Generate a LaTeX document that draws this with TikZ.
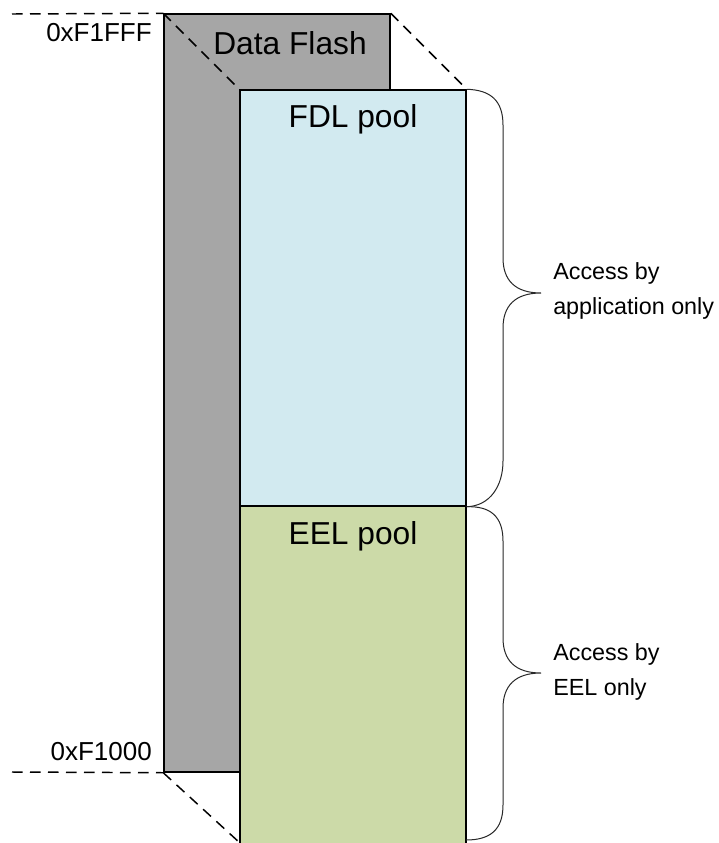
\documentclass[tikz,border=0pt]{standalone}
\usepackage{fontspec}
\setmainfont{Liberation Sans}
\definecolor{flashgray}{RGB}{166,166,166}
\definecolor{fdlblue}{RGB}{210,234,240}
\definecolor{eelgreen}{RGB}{204,218,168}
\definecolor{bracegray}{RGB}{40,40,40}
\begin{document}
\begin{tikzpicture}[x=0.75pt,y=-0.75pt,
  block/.style={draw=black,line width=1.1pt,inner sep=0pt,minimum width=169.5pt},
  guide/.style={draw=black,line width=1.1pt,dash pattern=on 8pt off 5.5pt},
  bracepath/.style={draw=bracegray,line width=0.75pt},
  bigtext/.style={font=\fontsize{23.8}{28}\selectfont,inner sep=0pt},
  addr/.style={font=\fontsize{19.5}{23}\selectfont,inner sep=0pt,anchor=east},
  note/.style={font=\fontsize{17.5}{26}\selectfont,inner sep=0pt,anchor=west,align=left}]
\clip (0,0) rectangle (718,843);
\fill[white] (0,0) rectangle (718,843);
% rectangles
\node[block,fill=flashgray,minimum height=568.5pt] (flash) at (277,393) {};
\node[block,fill=fdlblue,minimum height=312pt] (fdl) at (353,298) {};
\node[block,fill=eelgreen,minimum height=258pt] (eel) at (353,678) {};
% dashed guides
\coordinate (lt) at (12,14);
\coordinate (lb) at (12,772);
\coordinate (bd) at (240,843);
\draw[guide] (lt) -- (flash.north west);
\draw[guide] (lb) -- (flash.south west);
\draw[guide] (flash.north west) -- (fdl.north west);
\draw[guide] (flash.north east) -- (fdl.north east);
\draw[guide] (flash.south west) -- (bd);
% texts
\node[bigtext] (dftext) at (290,43) {Data Flash};
\node[bigtext] (fdltext) at (353,119) {FDL pool};
\node[bigtext] (eeltext) at (353,536) {EEL pool};
\node[addr] (hi) at (152,33) {0xF1FFF};
\node[addr] (lo) at (152,752) {0xF1000};
% braces
\coordinate (b1tip) at (541,293);
\coordinate (b2tip) at (541,673);
\coordinate (b2end) at (466,840);
\draw[bracepath] (fdl.north east) .. controls (490,90) and (503,100) .. (503,125)
  -- (503,258) .. controls (503,280) and (515,293) .. (b1tip)
  .. controls (515,293) and (503,306) .. (503,328)
  -- (503,461) .. controls (503,486) and (490,506) .. (fdl.south east);
\draw[bracepath] (fdl.south east) .. controls (490,506) and (503,516) .. (503,541)
  -- (503,638) .. controls (503,660) and (515,673) .. (b2tip)
  .. controls (515,673) and (503,686) .. (503,708)
  -- (503,805) .. controls (503,830) and (490,840) .. (b2end);
\node[note] (acc1) at (553,291) {Access by\\application only};
\node[note] (acc2) at (553,672) {Access by\\EEL only};
\end{tikzpicture}
\end{document}
